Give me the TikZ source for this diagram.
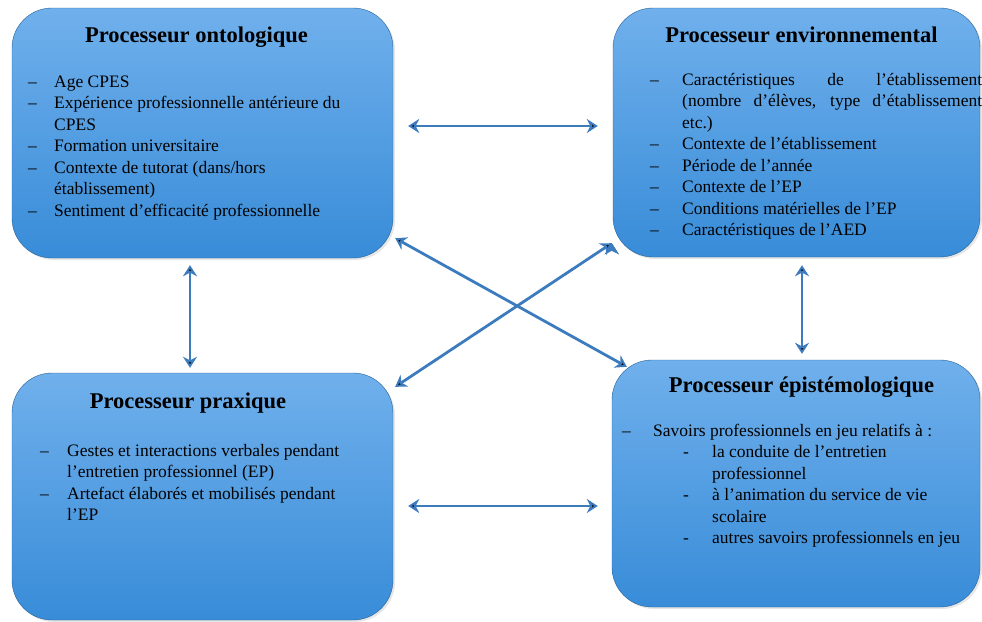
\documentclass[tikz,border=0pt]{standalone}
\usepackage{fontspec}
\setmainfont{Liberation Serif}
\usetikzlibrary{arrows.meta,shapes,shadows}
\definecolor{boxtop}{RGB}{112,176,236}
\definecolor{boxmid}{RGB}{148,200,246}
\definecolor{boxbot}{RGB}{56,140,216}
\definecolor{flecheblue}{RGB}{60,124,190}
\tikzstyle{processeur}=[rectangle,rounded corners=40pt,draw=boxbot!70!black,thin,
              top color=boxtop,middle color=boxmid,bottom color=boxbot,
              drop shadow={opacity=0.2,shadow xshift=2pt,shadow yshift=-2pt}]
\tikzstyle{titre}=[anchor=base,inner sep=0pt,font=\fontsize{22.5}{27}\selectfont\bfseries]
\tikzstyle{liste}=[anchor=base west,align=left,inner sep=0pt]
\tikzstyle{fleche}=[<->,line width=2.8pt,draw=flecheblue]
\newcommand{\tiret}[2]{\makebox[#1][l]{--}#2}

\begin{document}
\begin{tikzpicture}[x=1pt,y=-1pt,>={Stealth[length=11pt,width=14pt,inset=3.5pt]},
                    font=\fontsize{17.5}{21.5}\selectfont]
	\useasboundingbox (0,0) rectangle (982,621);

	% les quatre processeurs
	\node[processeur,minimum width=381pt,minimum height=250pt] (onto) at (202.5,133) {};
	\node[processeur,minimum width=367pt,minimum height=249pt] (env) at (796.5,132.5) {};
	\node[processeur,minimum width=381pt,minimum height=247pt] (prax) at (202.5,496.5) {};
	\node[processeur,minimum width=368pt,minimum height=247pt] (epi) at (796,483.5) {};

	\node[titre] (ontotitre) at (196.5,42) {Processeur ontologique};
	\node[titre] (envtitre) at (801.5,42) {Processeur environnemental};
	\node[titre] (praxtitre) at (188,408) {Processeur praxique};
	\node[titre] (epititre) at (801.5,392) {Processeur épistémologique};

	% listes (ancre sur la derniere ligne)
	\node[liste] (ontoliste) at (28,216) {\tiret{26pt}{Age CPES}\\
		\tiret{26pt}{Expérience professionnelle antérieure du}\\
		\hspace*{26pt}CPES\\
		\tiret{26pt}{Formation universitaire}\\
		\tiret{26pt}{Contexte de tutorat (dans/hors}\\
		\hspace*{26pt}établissement)\\
		\tiret{26pt}{Sentiment d’efficacité professionnelle}};

	\node[liste] (envliste) at (650,235.5) {\tiret{32pt}{\makebox[300pt][s]{Caractéristiques de l’établissement}}\\
		\hspace*{32pt}\makebox[300pt][s]{(nombre d’élèves, type d’établissement}\\
		\hspace*{32pt}etc.)\\
		\tiret{32pt}{Contexte de l’établissement}\\
		\tiret{32pt}{Période de l’année}\\
		\tiret{32pt}{Contexte de l’EP}\\
		\tiret{32pt}{Conditions matérielles de l’EP}\\
		\tiret{32pt}{Caractéristiques de l’AED}};

	\node[liste] (praxliste) at (40,520.5) {\tiret{27pt}{Gestes et interactions verbales pendant}\\
		\hspace*{27pt}l’entretien professionnel (EP)\\
		\tiret{27pt}{Artefact élaborés et mobilisés pendant}\\
		\hspace*{27pt}l’EP};

	\node[liste] (epiliste) at (622,543.5) {\tiret{31pt}{Savoirs professionnels en jeu relatifs à :}\\
		\hspace*{61pt}\makebox[29pt][l]{-}la conduite de l’entretien\\
		\hspace*{90pt}professionnel\\
		\hspace*{61pt}\makebox[29pt][l]{-}à l’animation du service de vie\\
		\hspace*{90pt}scolaire\\
		\hspace*{61pt}\makebox[29pt][l]{-}autres savoirs professionnels en jeu};

	% relations
	\path[fleche]
		([shift={(15,-7)}]onto.east) edge ([shift={(-15,-6.5)}]env.west)
		([shift={(15,9.5)}]prax.east) edge ([shift={(-14,22.5)}]epi.west)
		([shift={(-12.5,7)}]onto.south) edge ([shift={(-12.5,-5)}]prax.north)
		([shift={(5.5,8)}]env.south) edge ([shift={(6,-6)}]epi.north)
		([shift={(2,-20)}]onto.south east) edge ([shift={(15,7)}]epi.north west)
		([shift={(-1,-14)}]env.south west) edge ([shift={(2,14)}]prax.north east);
\end{tikzpicture}
\end{document}
